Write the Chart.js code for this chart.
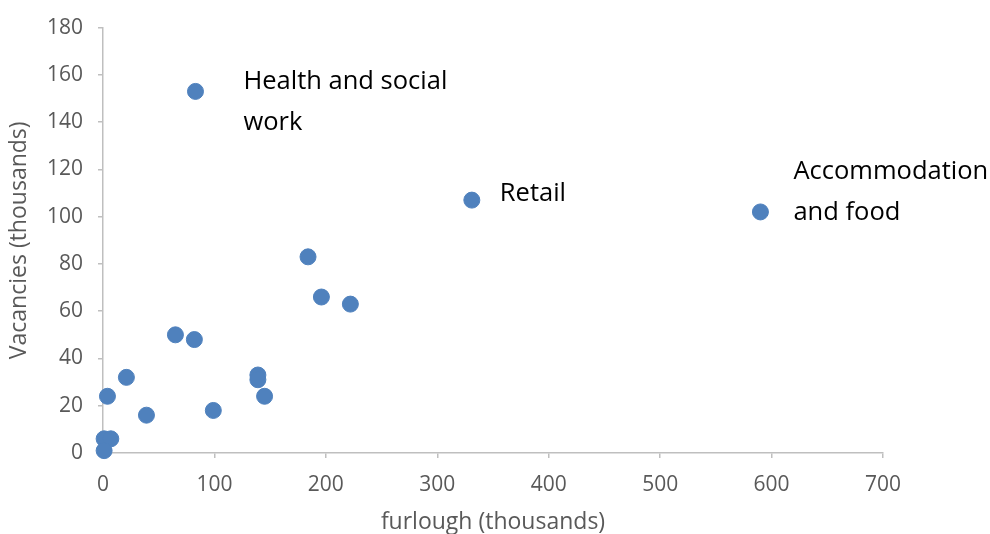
<!DOCTYPE html>
<html>
  <head>
    <title>Furlough vs vacancies</title>
    <script src="https://cdn.jsdelivr.net/npm/chart.js@4.4.0/dist/chart.umd.min.js"></script>
    <style>
      body { margin: 0; background: #fff; }
      #wrap { width: 990px; height: 534px; }
    </style>
  </head>
  <body>
    <div id="wrap"><canvas id="myChart" width="990" height="534"></canvas></div>

    <script>
      // furlough and vacancies by sector, thousands
      var furlough = [83, 331, 590, 184, 196, 222, 65, 82, 139, 139, 145, 99, 39, 21, 4, 1, 7, 1];
      var vacancies = [153, 107, 102, 83, 66, 63, 50, 48, 33, 31, 24, 18, 16, 32, 24, 6, 6, 1];

      // named sectors: which point, and the text lines
      var labelPoints = [0, 1, 2];
      var labelTexts = [["Health and social", "work"], ["Retail"], ["Accommodation", "and food"]];

      var xTicks = [0, 100, 200, 300, 400, 500, 600, 700];
      var yTicks = [0, 20, 40, 60, 80, 100, 120, 140, 160, 180];

      var points = [];
      for (var i = 0; i < furlough.length; i++) {
        points.push({ x: furlough[i], y: vacancies[i] });
      }

      var gray = "#bfbfbf";
      var textGray = "#595959";

      var pointLabels = {
        id: "pointLabels",
        afterDatasetsDraw: function (chart, args, opts) {
          var ctx = chart.ctx;
          var xs = chart.scales.x;
          var ys = chart.scales.y;
          ctx.save();
          ctx.font = opts.font;
          ctx.fillStyle = opts.color;
          ctx.textAlign = "left";
          ctx.textBaseline = "middle";
          for (var i = 0; i < labelPoints.length; i++) {
            var p = labelPoints[i];
            var px = xs.getPixelForValue(furlough[p]);
            var py = ys.getPixelForValue(vacancies[p]);
            var off = opts.offsets[i];
            var lines = labelTexts[i];
            for (var j = 0; j < lines.length; j++) {
              ctx.fillText(lines[j], px + off[0], py + off[1] + j * opts.lineHeight);
            }
          }
          ctx.restore();
        },
      };

      var ctx = document.getElementById("myChart").getContext("2d");
      var myChart = new Chart(ctx, {
        type: "scatter",
        data: {
          datasets: [
            {
              data: points,
              backgroundColor: "#4f81bd",
              borderColor: "#4f81bd",
              pointRadius: 8,
              pointHoverRadius: 8,
              clip: false,
            },
          ],
        },
        plugins: [pointLabels],
        options: {
          responsive: false,
          animation: false,
          layout: { padding: { top: 25, right: 107, left: 0, bottom: 0 } },
          plugins: {
            legend: { display: false },
            tooltip: { enabled: false },
            pointLabels: {
              font: "25.5px 'Open Sans'",
              color: "#000",
              lineHeight: 41,
              offsets: [[48, -10], [28, -6], [33, -40]],
            },
          },
          scales: {
            x: {
              type: "linear",
              min: 0,
              max: 700,
              afterBuildTicks: function (scale) {
                scale.ticks = xTicks.map(function (v) { return { value: v }; });
              },
              afterFit: function (scale) { scale.height = 81; },
              border: { color: gray, width: 1.5 },
              grid: { drawOnChartArea: false, drawTicks: true, tickLength: 5, color: gray, lineWidth: 1.5 },
              ticks: { color: textGray, font: { family: "Open Sans", size: 21 }, padding: 14, maxRotation: 0 },
              title: {
                display: true,
                text: "furlough (thousands)",
                color: textGray,
                font: { family: "Open Sans", size: 23, lineHeight: 1 },
                padding: { top: 0, bottom: 0 },
              },
            },
            y: {
              type: "linear",
              min: 0,
              max: 180,
              afterBuildTicks: function (scale) {
                scale.ticks = yTicks.map(function (v) { return { value: v }; });
              },
              afterFit: function (scale) { scale.width = 103; },
              border: { color: gray, width: 1.5 },
              grid: { drawOnChartArea: false, drawTicks: true, tickLength: 5, color: gray, lineWidth: 1.5 },
              ticks: { color: textGray, font: { family: "Open Sans", size: 21 }, padding: 15 },
              title: {
                display: true,
                text: "Vacancies (thousands)",
                color: textGray,
                font: { family: "Open Sans", size: 23, lineHeight: 1 },
                padding: { top: 8, bottom: 0 },
              },
            },
          },
        },
      });
    </script>
  </body>
</html>
